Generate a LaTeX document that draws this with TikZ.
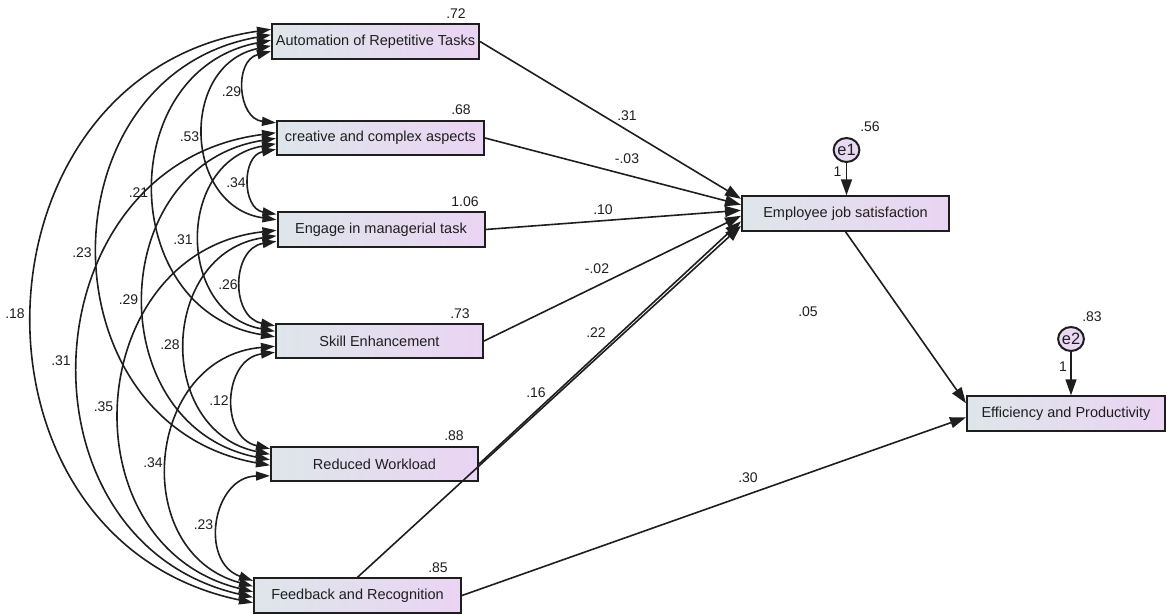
\documentclass[tikz,border=0pt]{standalone}
\usepackage{fontspec}
\setmainfont{Liberation Sans}
\usetikzlibrary{arrows.meta,calc,shapes.geometric}
\definecolor{boxL}{RGB}{222,230,234}
\definecolor{boxR}{RGB}{234,212,243}
\definecolor{errfill}{RGB}{232,216,242}
\definecolor{ink}{RGB}{30,30,30}
\newcommand\mkslot[3]{\coordinate (#1) at ($(#2.north west)+(0,#3)$);}
\begin{document}
\begin{tikzpicture}[x=0.5pt,y=-0.5pt,
  var/.style={draw=ink, line width=1pt, left color=boxL, right color=boxR,
    minimum width=103.5pt, minimum height=17.2pt, inner sep=0pt,
    font=\fontsize{7.25}{8}\selectfont, text=ink},
  err/.style={ellipse, draw=ink, line width=1pt, fill=errfill,
    minimum width=12.5pt, minimum height=12pt, inner sep=0pt,
    font=\fontsize{8.2}{9}\selectfont, text=ink},
  lbl/.style={font=\fontsize{7}{8}\selectfont, text=ink, inner sep=0pt},
  reg/.style={draw=ink, line width=0.8pt, -{Triangle[length=8pt,width=5.5pt]}},
  cov/.style={draw=ink, line width=0.8pt,
    {Triangle[length=7pt,width=4.5pt]}-{Triangle[length=7pt,width=4.5pt]},
    bend right=80, looseness=1.38},
]
\useasboundingbox (0,0) rectangle (1167,615);

% observed variables
\node[var] (auto) at (375.5,41.5) {Automation of Repetitive Tasks};
\node[var] (crea) at (380.5,138) {creative and complex aspects};
\node[var] (eng) at (381,229.5) {Engage in managerial task};
\node[var] (skill) at (379.5,341) {Skill Enhancement};
\node[var] (red) at (374.5,464) {Reduced Workload};
\node[var] (fb) at (357.5,595.5) {Feedback and Recognition};
\node[var] (emp) at (845.5,213.5) {Employee job satisfaction};
\node[var, minimum width=99pt] (eff) at (1066,413.5) {Efficiency and Productivity};
\node[err] (e1) at (846.5,150) {e1};
\node[err] (e2) at (1071,339) {e2};

% variance labels
\node[lbl] (vA) at (456,14) {.72};
\node[lbl] (vC) at (461,110) {.68};
\node[lbl] (vE) at (465,201.5) {1.06};
\node[lbl] (vS) at (460,313.5) {.73};
\node[lbl] (vR) at (454,436) {.88};
\node[lbl] (vF) at (438,567.5) {.85};
\node[lbl] (v1) at (870,127) {.56};
\node[lbl] (v2) at (1092,317) {.83};
\node[lbl] (w1) at (837.5,171.5) {1};
\node[lbl] (w2) at (1063,367) {1};

% slots on the left edges
\mkslot{AF}{auto}{6}  \mkslot{AR}{auto}{11.5} \mkslot{AS}{auto}{17} \mkslot{AE}{auto}{22.5} \mkslot{AC}{auto}{28}
\mkslot{CA}{crea}{3}  \mkslot{CF}{crea}{13}   \mkslot{CR}{crea}{18.5} \mkslot{CS}{crea}{24} \mkslot{CE}{crea}{29.5}
\mkslot{EC}{eng}{3}   \mkslot{EA}{eng}{8.5}   \mkslot{EF}{eng}{19} \mkslot{ER}{eng}{24.5} \mkslot{ES}{eng}{30}
\mkslot{SE}{skill}{3} \mkslot{SC}{skill}{8.5} \mkslot{SA}{skill}{14} \mkslot{SF}{skill}{23.5} \mkslot{SR}{skill}{29.5}
\mkslot{RS}{red}{3}   \mkslot{RE}{red}{8.5}   \mkslot{RC}{red}{14} \mkslot{RA}{red}{19.5} \mkslot{RF}{red}{30}
\mkslot{FR}{fb}{3.5}  \mkslot{FS}{fb}{9}      \mkslot{FE}{fb}{14.5} \mkslot{FC}{fb}{20} \mkslot{FA}{fb}{25.5}

% covariances
\draw[cov] (AC) to (CA);
\draw[cov] (AE) to (EA);
\draw[cov] (AS) to (SA);
\draw[cov] (AR) to (RA);
\draw[cov] (AF) to (FA);
\draw[cov] (CE) to (EC);
\draw[cov] (CS) to (SC);
\draw[cov] (CR) to (RC);
\draw[cov] (CF) to (FC);
\draw[cov] (ES) to (SE);
\draw[cov] (ER) to (RE);
\draw[cov] (EF) to (FE);
\draw[cov] (SR) to (RS);
\draw[cov] (SF) to (FS);
\draw[cov] (RF) to (FR);

% covariance labels
\node[lbl] (cAC) at (231.5,91.5) {.29};
\node[lbl] (cAE) at (189.5,137) {.53};
\node[lbl] (cCE) at (236,183) {.34};
\node[lbl] (cAS) at (138.5,193) {.21};
\node[lbl] (cCS) at (183,239.5) {.31};
\node[lbl] (cAR) at (82,253) {.23};
\node[lbl] (cES) at (228,285) {.26};
\node[lbl] (cCR) at (128.5,299.5) {.29};
\node[lbl] (cAF) at (15,314) {.18};
\node[lbl] (cER) at (170,345) {.28};
\node[lbl] (cCF) at (61,361) {.31};
\node[lbl] (cSR) at (219,401) {.12};
\node[lbl] (cEF) at (103.5,407) {.35};
\node[lbl] (cSF) at (153,463) {.34};
\node[lbl] (cRF) at (203.5,525) {.23};

% regression targets on the left edge of emp
\coordinate (tA) at ($(emp.north west)+(0,3.5)$);
\coordinate (tC) at ($(emp.north west)+(0,9.5)$);
\coordinate (tE) at ($(emp.north west)+(0,15)$);
\coordinate (tS) at ($(emp.north west)+(0,20.5)$);
\coordinate (tR) at ($(emp.north west)+(0,26)$);
\coordinate (tF) at ($(emp.north west)+(0,30.5)$);
\coordinate (tY) at ($(eff.north west)+(0,8)$);
\coordinate (tZ) at ($(eff.north west)+(0,22)$);

\draw[reg] (auto.east) -- (tA);
\draw[reg] (crea.east) -- (tC);
\draw[reg] (eng.east) -- (tE);
\draw[reg] (skill.east) -- (tS);
\draw[reg] (red.east) -- (tR);
\draw[reg] (fb.north) -- (tF);
\draw[reg] (emp.south) -- (tY);
\draw[reg] (fb.east) -- (tZ);
\draw[reg] (e1.south) -- (e1.south |- emp.north);
\draw[reg] (e2.south) -- (e2.south |- eff.north);

% regression labels
\node[lbl] (pA) at (627,116) {.31};
\node[lbl] (pC) at (627,159) {-.03};
\node[lbl] (pE) at (603,210) {.10};
\node[lbl] (pS) at (597,269) {-.02};
\node[lbl] (pR) at (596,333) {.22};
\node[lbl] (pF) at (536,393) {.16};
\node[lbl] (pY) at (808,312) {.05};
\node[lbl] (pZ) at (748,478) {.30};
\end{tikzpicture}
\end{document}
